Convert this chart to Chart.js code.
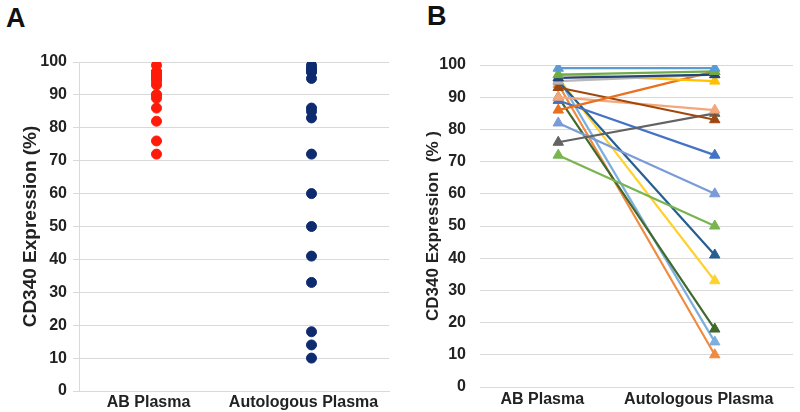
<!DOCTYPE html>
<html>
<head>
<meta charset="utf-8">
<script src="https://cdn.jsdelivr.net/npm/chart.js@4.4.1/dist/chart.umd.min.js"></script>
<style>
  body { margin: 0; background: #fff; width: 800px; height: 412px; position: relative; overflow: hidden;
         font-family: "Liberation Sans", Arial, sans-serif; }
  .panel { position: absolute; top: 0; width: 400px; height: 412px; }
  .tag { position: absolute; font-weight: bold; font-size: 27px; line-height: 1; color: #111; }
</style>
</head>
<body>
<div class="tag" style="left:6px;top:5px">A</div>
<div class="tag" style="left:427px;top:3px">B</div>
<div class="panel" style="left:0"><canvas id="chartA" width="400" height="412"></canvas></div>
<div class="panel" style="left:400px"><canvas id="chartB" width="400" height="412"></canvas></div>
<script>
// ---- data ----
const categories = ['AB Plasma', 'Autologous Plasma'];
const yTickMin = 0;
const yTickMax = 100;
const yTickStep = 10;

// one entry per donor, same order in both arrays
const abPlasma = [99, 97, 96, 95, 97, 86, 93, 90, 76, 89, 82, 72, 95, 96, 90, 96, 94];
const autologousPlasma = [99, 98, 97, 97, 95, 98, 83, 86, 85, 72, 60, 50, 41, 33, 18, 14, 10];
const donorColors = [
  '#5B9BD5', '#70AD47', '#264478', '#B7B7B7', '#FFC000', '#E8711F',
  '#9E480E', '#F4A77A', '#636363', '#4472C4', '#7A9BD8', '#78B450',
  '#255E91', '#FFD12E', '#43682B', '#7CAFDD', '#F08A3E'
];

const textColor = '#222';
const gridColor = '#D9D9D9';
const fontFamily = '"Liberation Sans", Arial, sans-serif';
const tickFont = { family: fontFamily, size: 16, weight: 'bold' };

// ---- panel A: dot plot ----
new Chart(document.getElementById('chartA'), {
  type: 'line',
  data: {
    labels: categories,
    datasets: [
      {
        data: abPlasma.map(v => ({ x: categories[0], y: v })),
        showLine: false,
        pointRadius: 5,
        pointBackgroundColor: '#FF1A0A',
        pointBorderColor: '#FF1A0A',
        pointBorderWidth: 1
      },
      {
        data: autologousPlasma.map(v => ({ x: categories[1], y: v })),
        showLine: false,
        pointRadius: 5,
        pointBackgroundColor: '#0D2B6E',
        pointBorderColor: '#0D2B6E',
        pointBorderWidth: 1
      }
    ]
  },
  options: {
    responsive: false,
    animation: false,
    layout: { padding: { top: 62, right: 11, bottom: 0, left: 0 } },
    plugins: { legend: { display: false }, tooltip: { enabled: false } },
    scales: {
      x: {
        type: 'category',
        offset: true,
        grid: { display: false, drawTicks: false, tickLength: 0 },
        border: { display: true, color: gridColor },
        ticks: { font: tickFont, color: textColor, padding: 2, labelOffset: -8, maxRotation: 0 },
        afterFit: s => { s.height = 21; }
      },
      y: {
        min: yTickMin,
        max: yTickMax,
        ticks: { stepSize: yTickStep, font: tickFont, color: textColor, padding: 6 },
        grid: { color: gridColor, tickLength: 6 },
        border: { display: true, color: gridColor },
        title: {
          display: true, text: 'CD340 Expression (%)', color: textColor,
          font: { family: fontFamily, size: 19, weight: 'bold' }, padding: { top: 19, bottom: 0 }
        },
        afterFit: s => { s.width = 79; }
      }
    }
  }
});

// ---- panel B: paired lines ----
new Chart(document.getElementById('chartB'), {
  type: 'line',
  data: {
    labels: categories,
    datasets: abPlasma.map((v, i) => ({
      data: [v, autologousPlasma[i]],
      borderColor: donorColors[i],
      backgroundColor: donorColors[i],
      borderWidth: 2.2,
      pointStyle: 'triangle',
      pointRadius: 6,
      pointBorderWidth: 1,
      pointBackgroundColor: donorColors[i],
      pointBorderColor: donorColors[i]
    }))
  },
  options: {
    responsive: false,
    animation: false,
    layout: { padding: { top: 65, right: 4, bottom: 0, left: 0 } },
    plugins: { legend: { display: false }, tooltip: { enabled: false } },
    scales: {
      x: {
        type: 'category',
        offset: true,
        grid: { display: false, drawTicks: false, tickLength: 0 },
        border: { display: true, color: gridColor },
        ticks: { font: tickFont, color: textColor, padding: 3, labelOffset: -16, maxRotation: 0 },
        afterFit: s => { s.height = 25; }
      },
      y: {
        min: yTickMin,
        max: yTickMax,
        ticks: { stepSize: yTickStep, font: tickFont, color: textColor, padding: 14 },
        grid: { color: gridColor, drawTicks: false },
        border: { display: false },
        title: {
          display: true, text: 'CD340 Expression  (% )', color: textColor,
          font: { family: fontFamily, size: 17, weight: 'bold' }, padding: { top: 23, bottom: 0 }
        },
        afterFit: s => { s.width = 80; }
      }
    }
  }
});
</script>
</body>
</html>
